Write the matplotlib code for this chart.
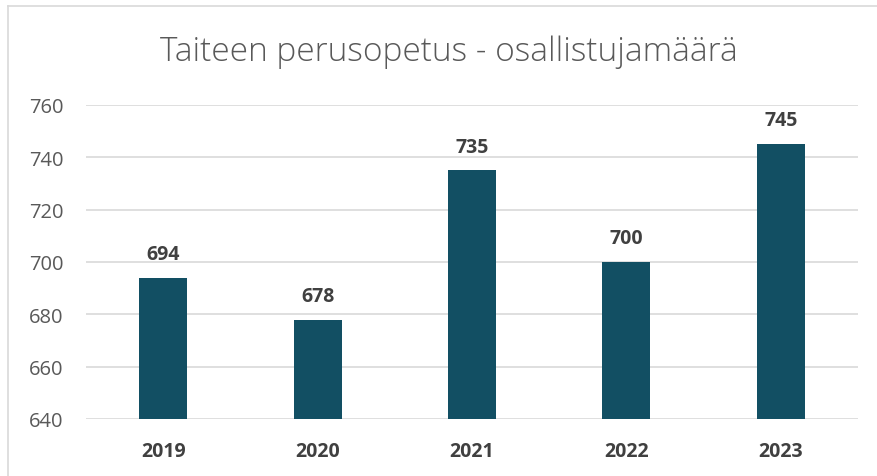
import matplotlib
matplotlib.use("Agg")
import matplotlib.pyplot as plt
from matplotlib.lines import Line2D

years = ["2019", "2020", "2021", "2022", "2023"]
participants = [694, 678, 735, 700, 745]
y_ticks = [640, 660, 680, 700, 720, 740, 760]

BAR_COLOR = "#124F63"
GRID_COLOR = "#D9D9D9"
TEXT_COLOR = "#595959"
LABEL_COLOR = "#404040"

plt.rcParams["font.family"] = ["Open Sans", "DejaVu Sans"]

W, H = 877, 477
fig = plt.figure(figsize=(W / 100, H / 100), dpi=100)
ax = fig.add_axes([86 / W, 1 - 420 / H, (858 - 86) / W, (420 - 106) / H])

x = list(range(len(years)))
ax.bar(x, [v - y_ticks[0] for v in participants], bottom=y_ticks[0],
       width=0.31, color=BAR_COLOR, zorder=3)

for xi, v in zip(x, participants):
    ax.annotate(str(v), (xi, v), xytext=(0, 10), textcoords="offset points",
                ha="center", va="bottom", fontsize=14, fontweight="bold",
                color=LABEL_COLOR)

ax.set_xlim(-0.5, len(years) - 0.5)
ax.set_ylim(y_ticks[0], y_ticks[-1])
ax.set_yticks(y_ticks)
ax.set_xticks(x)
ax.set_xticklabels(years, fontsize=14, fontweight="bold", color=LABEL_COLOR)
ax.tick_params(axis="y", length=0, pad=16, labelsize=14.5, labelcolor=TEXT_COLOR)
ax.tick_params(axis="x", length=0, pad=16)
ax.grid(axis="y", color=GRID_COLOR, linewidth=1.2, zorder=0)
ax.set_axisbelow(True)
for s in ax.spines.values():
    s.set_visible(False)

fig.text(449 / W, 1 - 52 / H, "Taiteen perusopetus - osallistujamäärä",
         ha="center", va="center", fontsize=24, fontweight="light",
         color=TEXT_COLOR)

# outer frame of the chart area (left and top edges)
fig.add_artist(Line2D([8 / W, 8 / W], [0, 1 - 7 / H], transform=fig.transFigure,
                      color=GRID_COLOR, linewidth=1.2))
fig.add_artist(Line2D([8 / W, 1], [1 - 7 / H, 1 - 7 / H], transform=fig.transFigure,
                      color=GRID_COLOR, linewidth=1.2))

fig.savefig("out.png", dpi=100, facecolor="white")
